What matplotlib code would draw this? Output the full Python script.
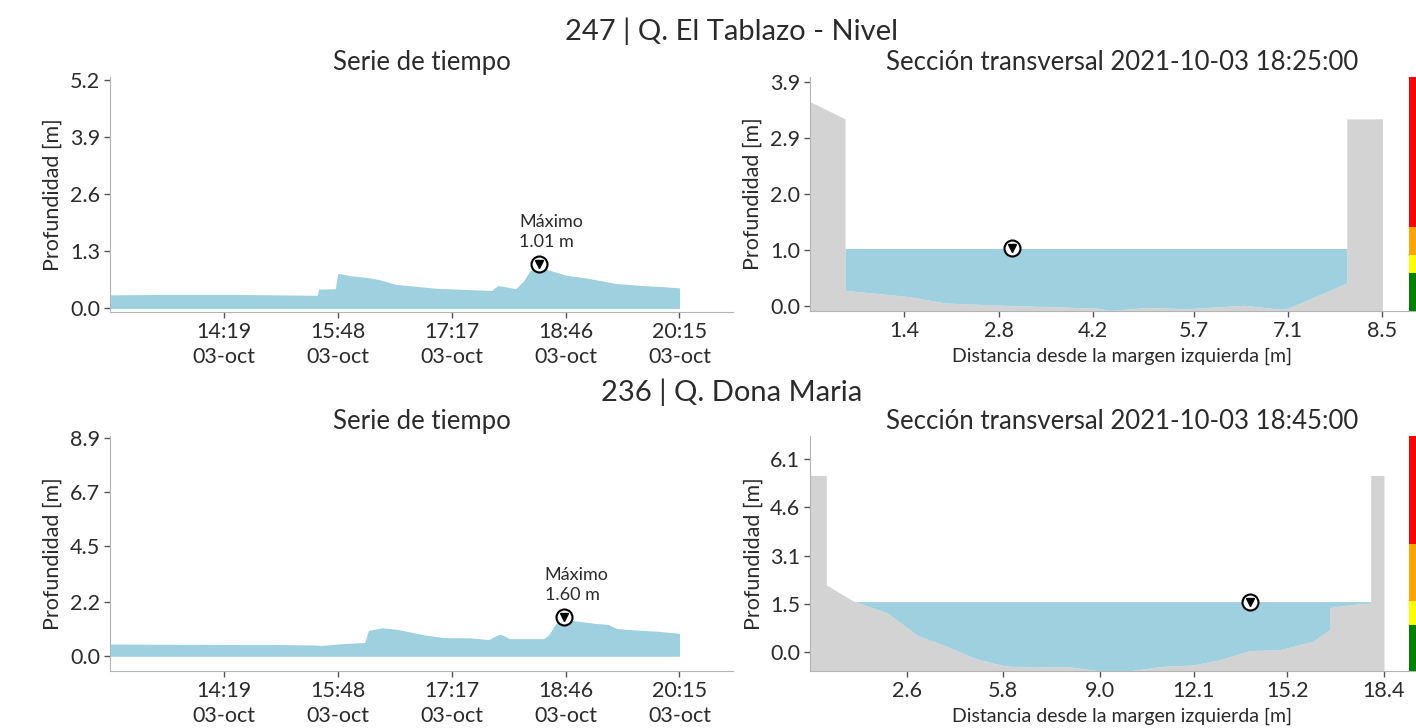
import numpy as np
import pandas as pd
import matplotlib
matplotlib.use("Agg")
import matplotlib.pyplot as plt
import matplotlib.dates as mdates

plt.rcParams['font.family'] = ['Lato', 'DejaVu Sans']
plt.rcParams['text.color'] = '#2b2b2b'
plt.rcParams['axes.labelcolor'] = '#2b2b2b'
plt.rcParams['xtick.color'] = '#555555'
plt.rcParams['ytick.color'] = '#555555'
plt.rcParams['xtick.labelcolor'] = '#2b2b2b'
plt.rcParams['ytick.labelcolor'] = '#2b2b2b'

DAY = "2021-10-03 "
WATER = '#9ed0e0'
GROUND = '#d3d3d3'
SPINE = '#b4b4b4'

# ---- station 247 | Q. El Tablazo - Nivel
title1 = "247 | Q. El Tablazo - Nivel"
ts1_time = ["12:50", "13:30", "14:30", "15:00", "15:32", "15:33", "15:46", "15:48",
            "15:57", "16:10", "16:20", "16:33", "17:05", "17:30", "17:48", "17:53",
            "17:58", "18:07", "18:13", "18:18", "18:24", "18:25", "18:28", "18:46",
            "19:03", "19:25", "19:47", "20:00", "20:15"]
ts1_depth = [0.31, 0.32, 0.32, 0.31, 0.30, 0.44, 0.45, 0.80,
             0.75, 0.71, 0.66, 0.55, 0.46, 0.43, 0.41, 0.52,
             0.50, 0.45, 0.62, 0.85, 0.98, 1.01, 0.92, 0.76,
             0.69, 0.57, 0.52, 0.50, 0.47]
ts1_max_time = "18:25"
ts1_max = 1.01
ts1_yticks = [0.0, 1.3, 2.6, 3.9, 5.2]
ts1_ytop = 5.27

sec1_title = "Sección transversal 2021-10-03 18:25:00"
sec1_x = [0.0, 0.52, 0.52, 1.48, 2.0, 2.87, 4.26, 4.46, 5.0, 5.6, 6.45, 6.98, 7.1,
          7.5, 7.97, 7.97, 8.5]
sec1_z = [3.57, 3.27, 0.28, 0.17, 0.06, 0.02, -0.03, -0.07, -0.02, -0.04, 0.02, -0.05,
          -0.03, 0.17, 0.41, 3.27, 3.27]
sec1_level = 1.01
sec1_marker_x = 3.0
sec1_xticks = [1.4, 2.8, 4.2, 5.7, 7.1, 8.5]
sec1_yticks = [0.0, 0.98, 1.96, 2.94, 3.92]
sec1_yticklabels = ["0.0", "1.0", "2.0", "2.9", "3.9"]
sec1_ytop = 4.0
sec1_alerts = [0.59, 0.90, 1.39]

# ---- station 236 | Q. Dona Maria
title2 = "236 | Q. Dona Maria"
ts2_time = ["12:50", "13:30", "14:30", "15:00", "15:30", "15:35", "15:53", "16:09",
            "16:12", "16:23", "16:35", "16:57", "17:11", "17:32", "17:46", "17:52",
            "17:55", "18:00", "18:02", "18:29", "18:33", "18:38", "18:45", "18:50",
            "19:09", "19:19", "19:26", "19:44", "19:58", "20:12", "20:15"]
ts2_depth = [0.50, 0.49, 0.48, 0.48, 0.46, 0.44, 0.52, 0.56,
             1.06, 1.16, 1.09, 0.86, 0.76, 0.75, 0.68, 0.85,
             0.90, 0.78, 0.72, 0.72, 0.89, 1.31, 1.60, 1.47,
             1.34, 1.30, 1.13, 1.06, 1.02, 0.95, 0.93]
ts2_max_time = "18:45"
ts2_max = 1.60
ts2_yticks = [0.0, 2.2, 4.5, 6.7, 8.9]
ts2_ytop = 8.98

sec2_title = "Sección transversal 2021-10-03 18:45:00"
sec2_x = [-0.6, -0.06, -0.06, 0.83, 1.94, 2.97, 3.93, 4.89, 5.85, 6.88, 7.92, 8.95,
          9.99, 11.02, 12.05, 12.94, 13.97, 14.93, 16.04, 16.6, 16.6, 17.37, 17.96,
          17.96, 18.4]
sec2_z = [5.6, 5.6, 2.13, 1.62, 1.25, 0.52, 0.18, -0.21, -0.44, -0.48, -0.46, -0.59,
          -0.59, -0.46, -0.41, -0.25, 0.05, 0.07, 0.34, 0.71, 1.41, 1.51, 1.55,
          5.6, 5.6]
sec2_level = 1.60
sec2_marker_x = 13.97
sec2_xticks = [2.6, 5.8, 9.0, 12.1, 15.2, 18.4]
sec2_yticks = [0.0, 1.53, 3.06, 4.59, 6.12]
sec2_yticklabels = ["0.0", "1.5", "3.1", "4.6", "6.1"]
sec2_ytop = 6.85
sec2_alerts = [0.87, 1.62, 3.43]

time_ticks = ["14:19", "15:48", "17:17", "18:46", "20:15"]
alert_colors = ['green', 'yellow', 'orange', 'red']

TICK_FS = 15.5


def to_num(times):
    return mdates.date2num(pd.to_datetime([DAY + t for t in times]))


def style(ax):
    for s in ['top', 'right']:
        ax.spines[s].set_visible(False)
    for s in ['left', 'bottom']:
        ax.spines[s].set_color(SPINE)
    ax.tick_params(direction='out', length=4, width=1, labelsize=TICK_FS, pad=3)


def marker(ax, x, y):
    ax.plot([x], [y], 'o', ms=11.5, mfc='white', mec='black', mew=1.5, zorder=5)
    ax.plot([x], [y], 'v', ms=6, color='black', zorder=6)


def time_panel(ax, times, depth, tmax, vmax, yticks, ytop, ybottom):
    t = to_num(times)
    ax.fill_between(t, 0, depth, color=WATER, lw=0)
    tm = to_num([tmax])[0]
    marker(ax, tm, vmax)
    ax.annotate(f"Máximo\n{vmax:.2f} m", (tm, vmax), xytext=(-14, 10),
                textcoords='offset points', ha='left', va='bottom',
                fontsize=13, linespacing=1.3)
    ax.set_xlim(t[0], t[0] + (t[-1] - t[0]) * 1.094)
    ax.set_ylim(ybottom, ytop)
    ax.set_xticks(to_num(time_ticks))
    ax.set_xticklabels([f"{s}\n03-oct" for s in time_ticks], linespacing=1.35)
    ax.set_yticks(yticks)
    ax.set_yticklabels([f"{v:.1f}" for v in yticks])
    ax.set_ylabel("Profundidad [m]", fontsize=15.5, labelpad=5)
    ax.set_title("Serie de tiempo", fontsize=18.5, pad=5)
    style(ax)


def section_panel(ax, bar_ax, title, x, z, level, mx, xticks, yticks, yticklabels,
                  ytop, alerts):
    x = np.array(x)
    z = np.array(z)
    ybottom = z.min() - 0.01
    ax.fill_between(x, ybottom, z, color=GROUND, lw=0)
    ax.fill_between(x, z, level, where=z <= level, interpolate=True, color=WATER, lw=0)
    marker(ax, mx, level)
    ax.set_xlim(x.min(), x.max() * 1.09)
    ax.set_ylim(ybottom, ytop)
    ax.set_xticks(xticks)
    ax.set_xticklabels([f"{v:.1f}" for v in xticks])
    ax.set_yticks(yticks)
    ax.set_yticklabels(yticklabels)
    ax.set_ylabel("Profundidad [m]", fontsize=15.5, labelpad=5)
    ax.set_xlabel("Distancia desde la margen izquierda [m]", fontsize=14, labelpad=5)
    ax.set_title(title, fontsize=18.5, pad=5)
    style(ax)

    bounds = [ybottom] + alerts + [ytop]
    bar_ax.bar([0] * 4, np.diff(bounds), bottom=bounds[:-1], width=1.0,
               color=alert_colors, lw=0)
    bar_ax.set_xlim(-0.5, 0.5)
    bar_ax.set_ylim(ybottom, ytop)
    bar_ax.axis('off')


fig = plt.figure(figsize=(14.16, 7.28), dpi=100)

W, H = 1416, 728


def box(l, r, top, bottom):
    return [l / W, 1 - bottom / H, (r - l) / W, (bottom - top) / H]


ax1 = fig.add_axes(box(110, 733, 77, 312))
ax2 = fig.add_axes(box(810, 1434, 77, 311))
bar1 = fig.add_axes(box(1409, 1450, 77, 311))
ax3 = fig.add_axes(box(110, 733, 436, 671))
ax4 = fig.add_axes(box(810, 1434, 436, 671))
bar2 = fig.add_axes(box(1409, 1450, 436, 671))

time_panel(ax1, ts1_time, ts1_depth, ts1_max_time, ts1_max, ts1_yticks, ts1_ytop,
           min(sec1_z) - 0.01)
time_panel(ax3, ts2_time, ts2_depth, ts2_max_time, ts2_max, ts2_yticks, ts2_ytop,
           min(sec2_z) - 0.01)
section_panel(ax2, bar1, sec1_title, sec1_x, sec1_z, sec1_level, sec1_marker_x,
              sec1_xticks, sec1_yticks, sec1_yticklabels, sec1_ytop, sec1_alerts)
section_panel(ax4, bar2, sec2_title, sec2_x, sec2_z, sec2_level, sec2_marker_x,
              sec2_xticks, sec2_yticks, sec2_yticklabels, sec2_ytop, sec2_alerts)

fig.text(732 / W, 1 - 31 / H, title1, ha='center', va='center', fontsize=21)
fig.text(732 / W, 1 - 392 / H, title2, ha='center', va='center', fontsize=21)

fig.savefig("out.png", dpi=100)
